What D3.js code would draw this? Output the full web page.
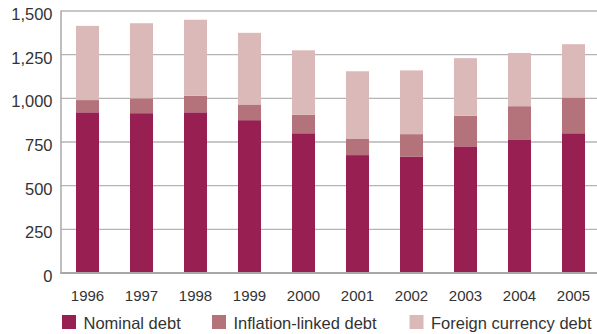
<!DOCTYPE html>
<html>
<head>
<meta charset="utf-8">
<script src="https://cdn.jsdelivr.net/npm/d3@7"></script>
<style>
  html, body { margin: 0; padding: 0; background: #fff; }
  svg { display: block; font-family: "Liberation Sans", Arial, sans-serif; }
</style>
</head>
<body>
<svg id="chart" width="597" height="334"></svg>
<script>
// Government debt by type, 1996–2005
const years = ["1996", "1997", "1998", "1999", "2000", "2001", "2002", "2003", "2004", "2005"];
const nominalDebt = [920, 915, 920, 875, 800, 675, 665, 725, 765, 800];
const inflationLinkedDebt = [70, 85, 95, 90, 105, 95, 130, 175, 190, 205];
const foreignCurrencyDebt = [425, 430, 435, 410, 370, 385, 365, 330, 305, 305];
const seriesNames = ["Nominal debt", "Inflation-linked debt", "Foreign currency debt"];
const seriesColors = ["#981f52", "#b4727a", "#dcb9b9"];
const yTicks = [0, 250, 500, 750, 1000, 1250, 1500];

const rows = years.map((yr, i) => ({
  year: yr,
  nominal: nominalDebt[i],
  inflation: inflationLinkedDebt[i],
  foreign: foreignCurrencyDebt[i]
}));
const keys = ["nominal", "inflation", "foreign"];

const svg = d3.select("#chart");
const plotLeft = 61, plotRight = 597, plotTop = 11, plotBottom = 273;

const x = d3.scaleBand().domain(years).range([plotLeft - 0.5, plotLeft + 539.5])
  .paddingInner(0.574).paddingOuter(0.287);
const y = d3.scaleLinear().domain([0, 1500]).range([plotBottom, plotTop]);

// horizontal gridlines
svg.append("g").selectAll("line").data(yTicks.filter(t => t > 0)).join("line")
  .attr("x1", plotLeft).attr("x2", plotRight)
  .attr("y1", d => y(d)).attr("y2", d => y(d))
  .attr("stroke", "#b4b4b4").attr("stroke-width", 1.3);

// y tick labels
const fmt = d3.format(",");
svg.append("g").selectAll("text").data(yTicks).join("text")
  .attr("x", 52.5).attr("y", d => y(d) + 9)
  .attr("text-anchor", "end")
  .attr("font-size", 16.5).attr("fill", "#333")
  .text(d => fmt(d));

// stacked bars
const stacked = d3.stack().keys(keys)(rows);
svg.append("g").selectAll("g").data(stacked).join("g")
  .attr("fill", (d, i) => seriesColors[i])
  .selectAll("rect").data(d => d).join("rect")
  .attr("x", d => x(d.data.year))
  .attr("width", x.bandwidth())
  .attr("y", d => y(d[1]))
  .attr("height", d => y(d[0]) - y(d[1]));

// axis lines
svg.append("line").attr("x1", plotLeft).attr("x2", plotLeft).attr("y1", plotTop - 0.5).attr("y2", plotBottom)
  .attr("stroke", "#a8a8a8").attr("stroke-width", 1.5);
svg.append("line").attr("x1", plotLeft - 0.75).attr("x2", plotRight).attr("y1", plotBottom).attr("y2", plotBottom)
  .attr("stroke", "#a8a8a8").attr("stroke-width", 2);

// x tick labels
svg.append("g").selectAll("text").data(years).join("text")
  .attr("x", d => x(d) + x.bandwidth() / 2).attr("y", 301.3)
  .attr("text-anchor", "middle")
  .attr("font-size", 15).attr("fill", "#333")
  .text(d => d);

// legend
const legendX = [62, 212, 409.5];
const legend = svg.append("g").selectAll("g").data(seriesNames).join("g")
  .attr("transform", (d, i) => `translate(${legendX[i]},315)`);
legend.append("rect").attr("width", 14).attr("height", 14)
  .attr("fill", (d, i) => seriesColors[i]);
legend.append("text").attr("x", 21.5).attr("y", 13.5)
  .attr("font-size", 16.5).attr("fill", "#333")
  .text(d => d);
</script>
</body>
</html>
